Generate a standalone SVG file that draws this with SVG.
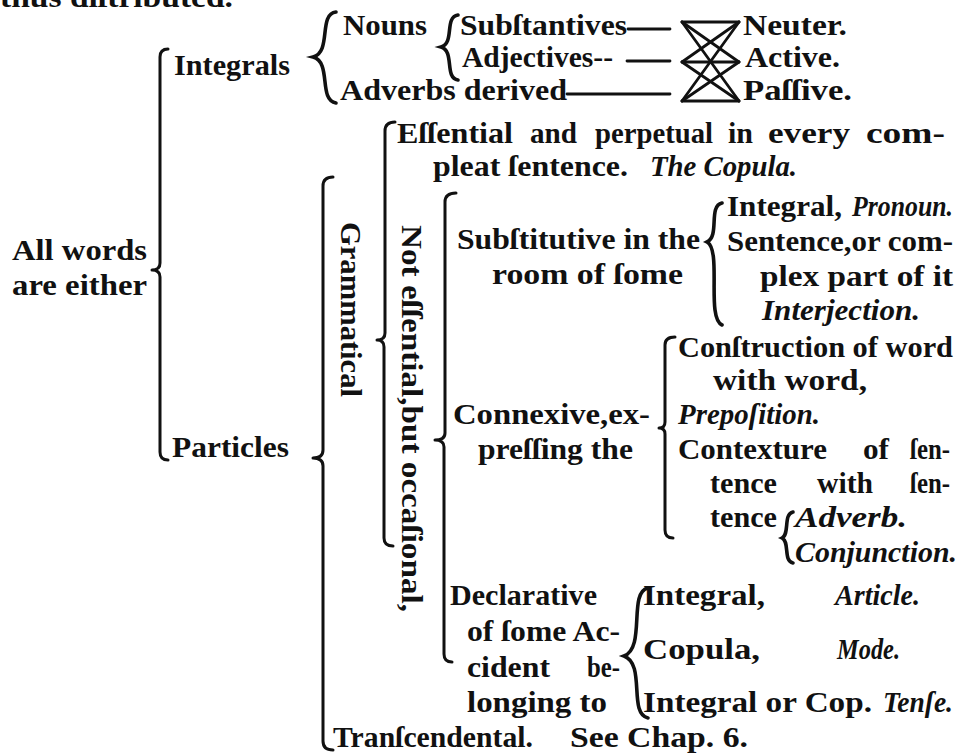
<svg xmlns="http://www.w3.org/2000/svg" width="972" height="754" viewBox="0 0 972 754">
<style>
text{font-family:"Liberation Serif","Times New Roman",serif;font-size:30px;font-weight:bold;fill:#111}
.i{font-style:italic}
.b{fill:none;stroke:#111;stroke-width:3;stroke-linecap:round;stroke-linejoin:round}
.c{fill:none;stroke:#111;stroke-width:3.6;stroke-linecap:round}
.l{stroke:#111;stroke-width:2.8;stroke-linecap:round}
</style>
<rect width="972" height="754" fill="#fff"/>
<g id="header"><text x="0" y="7" textLength="233" lengthAdjust="spacingAndGlyphs">thus diſtributed.</text></g>
<g id="all-words"><text x="12" y="260" textLength="135" lengthAdjust="spacingAndGlyphs">All words</text><text x="12" y="295" textLength="135" lengthAdjust="spacingAndGlyphs">are either</text></g>
<g id="integrals"><text x="174" y="75" textLength="116" lengthAdjust="spacingAndGlyphs">Integrals</text></g>
<g id="particles"><text x="172" y="457" textLength="117" lengthAdjust="spacingAndGlyphs">Particles</text></g>
<g id="nouns"><text x="343" y="35" textLength="84" lengthAdjust="spacingAndGlyphs">Nouns</text></g>
<g id="substantives"><text x="460" y="35" textLength="167" lengthAdjust="spacingAndGlyphs">Subſtantives</text></g>
<g id="adjectives"><text x="462" y="67" textLength="151" lengthAdjust="spacingAndGlyphs">Adjectives--</text></g>
<g id="adverbs"><text x="340" y="100" textLength="227" lengthAdjust="spacingAndGlyphs">Adverbs derived</text></g>
<g id="neuter"><text x="743" y="35" textLength="104" lengthAdjust="spacingAndGlyphs">Neuter.</text></g>
<g id="active"><text x="745" y="67" textLength="95" lengthAdjust="spacingAndGlyphs">Active.</text></g>
<g id="passive"><text x="743" y="100" textLength="109" lengthAdjust="spacingAndGlyphs">Paſſive.</text></g>
<g id="grammatical"><text transform="translate(341,222) rotate(90)" textLength="175" lengthAdjust="spacingAndGlyphs">Grammatical</text></g>
<g id="essential">
<text x="397" y="143" textLength="116" lengthAdjust="spacingAndGlyphs">Eſſential</text>
<text x="530" y="143" textLength="47" lengthAdjust="spacingAndGlyphs">and</text>
<text x="595" y="143" textLength="118" lengthAdjust="spacingAndGlyphs">perpetual</text>
<text x="728" y="143" textLength="25" lengthAdjust="spacingAndGlyphs">in</text>
<text x="768" y="143" textLength="82" lengthAdjust="spacingAndGlyphs">every</text>
<text x="866" y="143" textLength="79" lengthAdjust="spacingAndGlyphs">com-</text>
<text x="433" y="176" textLength="195" lengthAdjust="spacingAndGlyphs">pleat ſentence.</text>
<text class="i" x="650" y="176" textLength="147" lengthAdjust="spacingAndGlyphs">The Copula.</text>
</g>
<g id="not-essential"><text transform="translate(402,225) rotate(90)" textLength="387" lengthAdjust="spacingAndGlyphs">Not eſſential,but occaſional,</text></g>
<g id="substitutive"><text x="457" y="249" textLength="243" lengthAdjust="spacingAndGlyphs">Subſtitutive in the</text><text x="492" y="284" textLength="191" lengthAdjust="spacingAndGlyphs">room of ſome</text></g>
<g id="pronoun"><text x="727" y="216" textLength="115" lengthAdjust="spacingAndGlyphs">Integral,</text><text class="i" x="852" y="216" textLength="101" lengthAdjust="spacingAndGlyphs">Pronoun.</text></g>
<g id="interjection"><text x="727" y="251" textLength="226" lengthAdjust="spacingAndGlyphs">Sentence,or com-</text><text x="760" y="286" textLength="193" lengthAdjust="spacingAndGlyphs">plex part of it</text><text class="i" x="762" y="320" textLength="158" lengthAdjust="spacingAndGlyphs">Interjection.</text></g>
<g id="connexive"><text x="453" y="424" textLength="197" lengthAdjust="spacingAndGlyphs">Connexive,ex-</text><text x="478" y="459" textLength="155" lengthAdjust="spacingAndGlyphs">preſſing the</text></g>
<g id="preposition"><text x="678" y="357" textLength="275" lengthAdjust="spacingAndGlyphs">Conſtruction of word</text><text x="713" y="390" textLength="154" lengthAdjust="spacingAndGlyphs">with word,</text><text class="i" x="678" y="424" textLength="142" lengthAdjust="spacingAndGlyphs">Prepoſition.</text></g>
<g id="contexture">
<text x="678" y="459" textLength="149" lengthAdjust="spacingAndGlyphs">Contexture</text>
<text x="863" y="459" textLength="26" lengthAdjust="spacingAndGlyphs">of</text>
<text x="910" y="459" textLength="40" lengthAdjust="spacingAndGlyphs">ſen-</text>
<text x="710" y="493" textLength="67" lengthAdjust="spacingAndGlyphs">tence</text>
<text x="817" y="493" textLength="56" lengthAdjust="spacingAndGlyphs">with</text>
<text x="910" y="493" textLength="40" lengthAdjust="spacingAndGlyphs">ſen-</text>
<text x="710" y="527" textLength="67" lengthAdjust="spacingAndGlyphs">tence</text>
</g>
<g id="adverb"><text class="i" x="795" y="527" textLength="112" lengthAdjust="spacingAndGlyphs">Adverb.</text></g>
<g id="conjunction"><text class="i" x="795" y="562" textLength="162" lengthAdjust="spacingAndGlyphs">Conjunction.</text></g>
<g id="declarative">
<text x="450" y="605" textLength="147" lengthAdjust="spacingAndGlyphs">Declarative</text>
<text x="467" y="641" textLength="153" lengthAdjust="spacingAndGlyphs">of ſome Ac-</text>
<text x="467" y="677" textLength="83" lengthAdjust="spacingAndGlyphs">cident</text>
<text x="587" y="677" textLength="33" lengthAdjust="spacingAndGlyphs">be-</text>
<text x="467" y="712" textLength="140" lengthAdjust="spacingAndGlyphs">longing to</text>
</g>
<g id="article"><text x="643" y="605" textLength="122" lengthAdjust="spacingAndGlyphs">Integral,</text><text class="i" x="835" y="605" textLength="85" lengthAdjust="spacingAndGlyphs">Article.</text></g>
<g id="mode"><text x="643" y="659" textLength="117" lengthAdjust="spacingAndGlyphs">Copula,</text><text class="i" x="837" y="659" textLength="63" lengthAdjust="spacingAndGlyphs">Mode.</text></g>
<g id="tense"><text x="643" y="712" textLength="229" lengthAdjust="spacingAndGlyphs">Integral or Cop.</text><text class="i" x="883" y="712" textLength="70" lengthAdjust="spacingAndGlyphs">Tenſe.</text></g>
<g id="transcendental"><text x="333" y="747" textLength="200" lengthAdjust="spacingAndGlyphs">Tranſcendental.</text><text x="570" y="747" textLength="178" lengthAdjust="spacingAndGlyphs">See Chap. 6.</text></g>
<g id="connectors">
<path class="b" d="M168,49 Q160,49 160,57 L160,263 Q160,270 152,270 Q160,270 160,277 L160,452 Q160,460 168,460"/>
<path class="b" d="M333,177 Q323,177 323,186 L323,450 Q323,458 313,458 Q323,458 323,466 L323,741 Q323,750 333,750"/>
<path class="b" d="M395,122 Q385,122 385,131 L385,333 Q385,340 377,340 Q384,340 384,347 L384,538 Q384,546 393,546"/>
<path class="b" d="M456,193 Q445,193 445,202 L445,433 Q445,440 435,440 Q444,440 444,447 L444,654 Q444,662 452,662"/>
<path class="b" d="M675,337 Q665,337 665,345 L665,422 Q665,428 659,428 Q665,428 665,434 L665,530 Q665,538 673,538"/>
<path class="c" d="M336,12 C318,14 332,52 313,57 C332,62 318,100 336,103"/>
<path class="c" d="M458,15 C444,17 455,43 441,47 C455,51 444,78 458,80"/>
<path class="c" d="M722,203 C708,206 720,236 707,242 C722,250 706,318 722,325"/>
<path class="c" d="M648,588 C628,592 646,648 624,656 C646,664 628,714 648,718"/>
<path class="c" d="M793,512 C783,514 790,534 782,538 C790,542 783,561 793,563"/>
<line class="l" x1="628" y1="29" x2="670" y2="29"/>
<line class="l" x1="627" y1="61" x2="670" y2="61"/>
<line class="l" x1="567" y1="94" x2="670" y2="94"/>
<g class="l">
<line x1="682" y1="22" x2="739" y2="22"/>
<line x1="682" y1="62" x2="739" y2="62"/>
<line x1="682" y1="101" x2="739" y2="101"/>
<line x1="682" y1="22" x2="739" y2="62"/>
<line x1="682" y1="22" x2="739" y2="101"/>
<line x1="682" y1="62" x2="739" y2="22"/>
<line x1="682" y1="62" x2="739" y2="101"/>
<line x1="682" y1="101" x2="739" y2="22"/>
<line x1="682" y1="101" x2="739" y2="62"/>
</g>
</g>
</svg>
